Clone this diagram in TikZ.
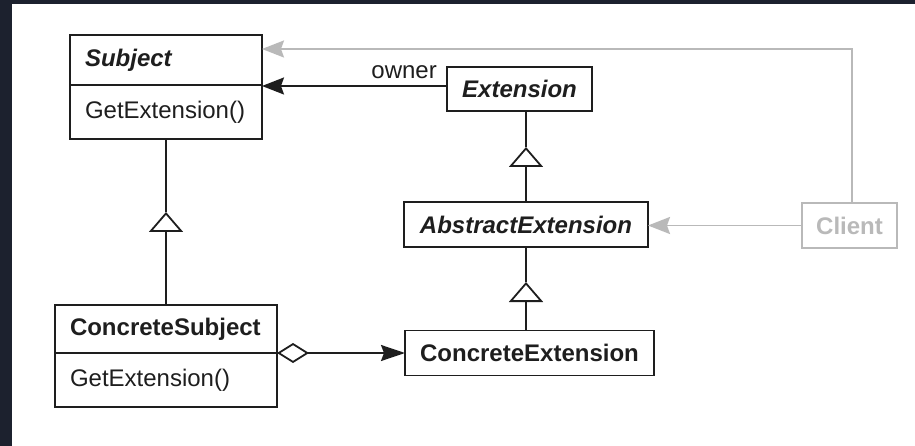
\documentclass[tikz,border=0pt]{standalone}
\usepackage{fontspec}
\setmainfont{Liberation Sans}
\usetikzlibrary{arrows.meta,calc}
\definecolor{framecol}{RGB}{28,33,46}
\definecolor{greycol}{RGB}{185,185,185}
\definecolor{ink}{RGB}{30,30,30}
\begin{document}
\begin{tikzpicture}[x=1pt,y=-1pt,
  basefont/.style={font=\fontsize{24}{28}\selectfont},
  umlbox/.style={draw=ink, line width=1.8pt, inner xsep=15pt, inner ysep=0pt, outer sep=0pt, text=ink, basefont},
  leftbox/.style={umlbox, align=left},
  abstractname/.style={font=\fontsize{24}{28}\selectfont\bfseries\itshape},
  classname/.style={font=\fontsize{24}{28}\selectfont\bfseries},
  conn/.style={draw=ink, line width=1.8pt},
  greyconn/.style={draw=greycol, line width=1.8pt},
  filledtip/.style={-{Stealth[length=22pt,width=17pt,inset=3pt]}},
  generalize/.style={-{Triangle[open,length=20pt,width=34pt]}}
]
\useasboundingbox (0,0) rectangle (915,446);
\fill[framecol] (0,0) rectangle (915,446);
\fill[white] (12,4) rectangle (915,446);

% Subject
\node[leftbox, abstractname, text width=162pt, minimum height=50pt] (subjT) at (166,60) {Subject};
\node[leftbox, text width=162pt, minimum height=54pt] (subjO) at (166,112) {GetExtension()};

% ConcreteSubject
\node[leftbox, classname, text width=192pt, minimum height=48pt] (csT) at (166,329) {ConcreteSubject};
\node[leftbox, text width=192pt, minimum height=54pt] (csO) at (166,380) {GetExtension()};

% Extensions
\node[umlbox, abstractname, minimum width=145pt, minimum height=44pt, inner xsep=0pt] (ext) at (519.5,89) {Extension};
\node[umlbox, abstractname, minimum width=244pt, minimum height=45pt, inner xsep=0pt] (abs) at (526,224.5) {AbstractExtension};
\node[umlbox, classname, minimum width=249pt, minimum height=45pt, inner xsep=0pt] (cext) at (529.5,353) {ConcreteExtension};

% Client
\node[umlbox, classname, draw=greycol, text=greycol, minimum width=95pt, minimum height=45pt, inner xsep=0pt] (client) at (849.5,225.5) {Client};

% owner association
\coordinate (ownstart) at ([yshift=3pt]ext.west);
\draw[conn, filledtip] (ownstart) -- (ownstart -| subjT.east);
\node[basefont, text=ink, anchor=base east, inner sep=0pt] (owner) at ([xshift=-10pt,yshift=10pt]ext.west) {owner};

% Client references
\draw[greyconn, filledtip, color=greycol] ([xshift=2.5pt]client.north) |- ([yshift=-14pt]subjT.north east);
\draw[greyconn, filledtip, color=greycol] (client.west) -- (client.west -| abs.east);

% Generalization Subject <- ConcreteSubject
\coordinate (g1) at ($(subjO.south)+(0,73)$);
\draw[conn] (subjO.south) -- (g1);
\draw[conn, generalize] (csT.north) -- (g1);

% Generalization Extension <- AbstractExtension
\coordinate (g2) at ($(abs.north |- ext.south)+(0,36)$);
\draw[conn] (abs.north |- ext.south) -- (g2);
\draw[conn, generalize] (abs.north) -- (g2);

% Generalization AbstractExtension <- ConcreteExtension
\coordinate (g3) at ($(abs.south)+(0,35)$);
\draw[conn] (abs.south) -- (g3);
\draw[conn, generalize] (abs.south |- cext.north) -- (g3);

% Aggregation
\draw[conn, {Diamond[open,length=32pt,width=20pt]}-{Stealth[length=24pt,width=16pt,inset=3pt]}] (csT.south east) -- (cext.west);
\end{tikzpicture}
\end{document}
